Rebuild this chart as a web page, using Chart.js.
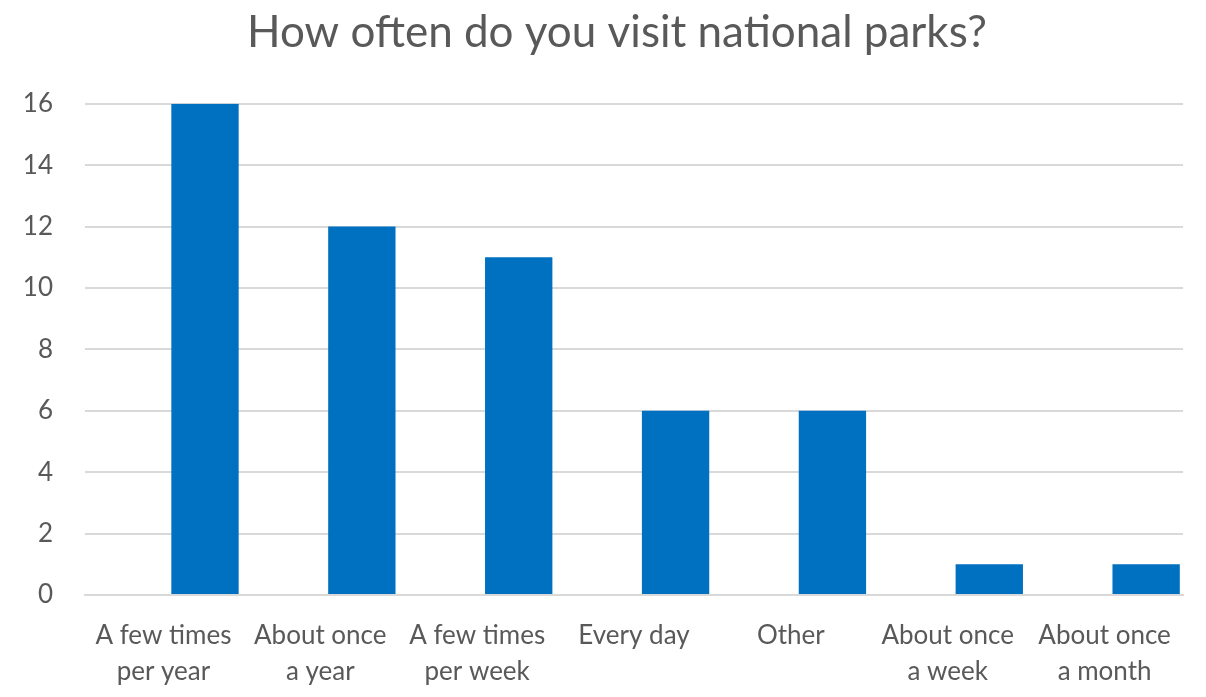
<!DOCTYPE html>
<html>
<head>
<meta charset="utf-8">
<script src="https://cdn.jsdelivr.net/npm/chart.js@4.4.1/dist/chart.umd.min.js"></script>
<style>
  body { margin: 0; background: #fff; }
  #wrap { width: 1206px; height: 697px; }
</style>
</head>
<body>
<div id="wrap"><canvas id="parksChart"></canvas></div>
<script>
// Survey answers and counts
const categories = [
    ['A few times', 'per year'],
    ['About once', 'a year'],
    ['A few times', 'per week'],
    'Every day',
    'Other',
    ['About once', 'a week'],
    ['About once', 'a month']
];
const visitCounts = [16, 12, 11, 6, 6, 1, 1];
const emptySeries = [null, null, null, null, null, null, null]; // hidden series, pushes bars to the right like Excel
const yTicks = [0, 2, 4, 6, 8, 10, 12, 14, 16];

const textGray = '#595959';
const fontFamily = 'Lato, "Open Sans", sans-serif';

// title in the original sits a little right of the canvas centre
const nudgeTitle = {
    id: 'nudgeTitle',
    afterLayout(chart) {
        if (chart.titleBlock) {
            chart.titleBlock.left = 51;
        }
    }
};

var ctx = document.getElementById('parksChart').getContext('2d');
var parksChart = new Chart(ctx, {
    type: 'bar',
    data: {
        labels: categories,
        datasets: [{
            label: 'empty',
            data: emptySeries,
            backgroundColor: 'transparent'
        },
        {
            label: 'Count',
            data: visitCounts,
            backgroundColor: '#0070C0',
            borderWidth: 0
        }]
    },
    options: {
        responsive: true,
        maintainAspectRatio: false,
        animation: false,
        categoryPercentage: 1.06,
        barPercentage: 0.81,
        layout: {
            padding: { left: 0, right: 23, top: 0, bottom: 0 }
        },
        plugins: {
            legend: { display: false },
            tooltip: { enabled: false },
            title: {
                display: true,
                text: 'How often do you visit national parks?',
                color: textGray,
                font: { family: fontFamily, size: 44, weight: 'normal' },
                padding: { top: 6, bottom: 45 }
            }
        },
        scales: {
            x: {
                grid: { display: false },
                border: { display: true, color: '#d9d9d9', width: 2 },
                ticks: {
                    color: textGray,
                    font: { family: fontFamily, size: 26, lineHeight: 1.4 },
                    padding: 14,
                    maxRotation: 0,
                    autoSkip: false
                },
                afterFit: (scale) => { scale.height = 102; }
            },
            y: {
                min: 0,
                max: 16,
                afterBuildTicks: (scale) => { scale.ticks = yTicks.map(v => ({ value: v })); },
                grid: { color: '#d9d9d9', lineWidth: 2, drawTicks: false },
                border: { display: false },
                ticks: {
                    color: textGray,
                    font: { family: fontFamily, size: 26 },
                    padding: 32
                },
                afterFit: (scale) => { scale.width = 85; }
            }
        }
    },
    plugins: [nudgeTitle]
});
</script>
</body>
</html>
